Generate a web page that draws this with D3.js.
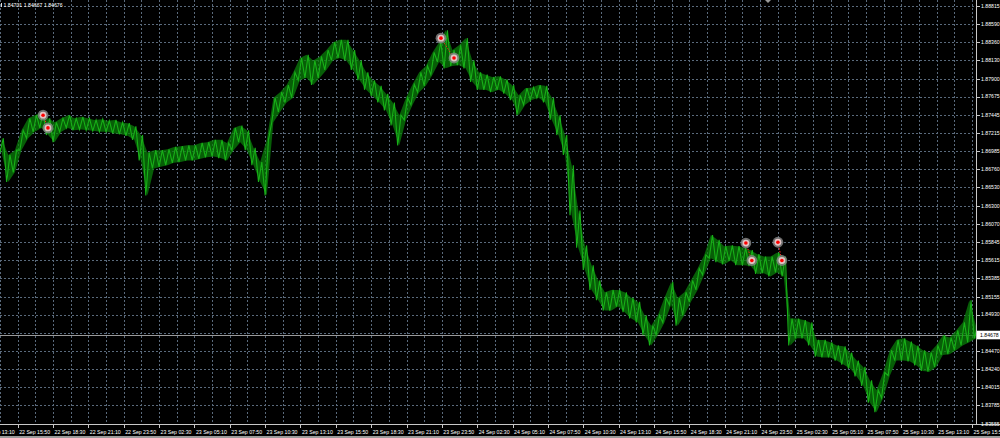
<!DOCTYPE html>
<html><head><meta charset="utf-8">
<script src="https://cdn.jsdelivr.net/npm/d3@7"></script>
<style>html,body{margin:0;padding:0;background:#000;overflow:hidden}svg{display:block}</style>
</head><body>
<svg id="c" width="1000" height="438"></svg>
<script>
// ---- data ----
const headerText = "1.84701 1.84667 1.84676";
const startTime = "2020-09-22T14:30:00Z";      // left edge of plot
const bucketMinutes = 30;                       // each bucket: low then high
const barHigh = [
 1.8715,1.8694,1.8700,1.8725,1.8740,1.8744,1.8748,1.8740,1.8735,1.8740,
 1.8744,1.8740,1.8742,1.8740,1.8738,1.8739,1.8737,1.8738,1.8735,1.8734,
 1.8730,1.8719,1.8697,1.8700,1.8700,1.8701,1.8704,1.8705,1.8706,1.8706,
 1.8709,1.8710,1.8713,1.8713,1.8709,1.8728,1.8731,1.8725,1.8703,1.8685,
 1.8713,1.8766,1.8773,1.8782,1.8798,1.8816,1.8820,1.8813,1.8818,1.8826,
 1.8836,1.8839,1.8839,1.8826,1.8813,1.8798,1.8788,1.8781,1.8771,1.8760,
 1.8744,1.8766,1.8783,1.8798,1.8806,1.8823,1.8836,1.8851,1.8826,1.8832,
 1.8841,1.8813,1.8798,1.8795,1.8792,1.8793,1.8789,1.8782,1.8769,1.8778,
 1.8779,1.8782,1.8781,1.8766,1.8744,1.8719,1.8681,1.8624,1.8580,1.8555,
 1.8536,1.8521,1.8524,1.8524,1.8521,1.8514,1.8509,1.8492,1.8479,1.8492,
 1.8514,1.8534,1.8514,1.8521,1.8536,1.8551,1.8568,1.8593,1.8587,1.8579,
 1.8580,1.8579,1.8577,1.8574,1.8569,1.8566,1.8566,1.8571,1.8566,1.8488,
 1.8488,1.8486,1.8483,1.8461,1.8461,1.8458,1.8454,1.8453,1.8445,1.8435,
 1.8427,1.8410,1.8398,1.8420,1.8448,1.8461,1.8463,1.8459,1.8454,1.8448,
 1.8445,1.8454,1.8467,1.8464,1.8473,1.8483,1.8511,1.8479];
const barLow = [
 1.8697,1.8660,1.8672,1.8700,1.8715,1.8723,1.8728,1.8719,1.8710,1.8723,
 1.8728,1.8725,1.8726,1.8725,1.8724,1.8723,1.8723,1.8721,1.8720,1.8718,
 1.8713,1.8687,1.8643,1.8677,1.8679,1.8681,1.8684,1.8685,1.8687,1.8687,
 1.8689,1.8691,1.8692,1.8690,1.8687,1.8700,1.8710,1.8700,1.8681,1.8660,
 1.8643,1.8735,1.8748,1.8760,1.8766,1.8788,1.8791,1.8782,1.8791,1.8801,
 1.8813,1.8816,1.8813,1.8801,1.8788,1.8776,1.8768,1.8760,1.8750,1.8731,
 1.8706,1.8738,1.8757,1.8773,1.8781,1.8795,1.8811,1.8803,1.8806,1.8807,
 1.8803,1.8786,1.8776,1.8776,1.8773,1.8776,1.8771,1.8763,1.8744,1.8757,
 1.8763,1.8766,1.8760,1.8738,1.8719,1.8694,1.8618,1.8577,1.8549,1.8524,
 1.8511,1.8498,1.8498,1.8503,1.8496,1.8488,1.8483,1.8467,1.8454,1.8467,
 1.8483,1.8505,1.8479,1.8492,1.8509,1.8524,1.8543,1.8564,1.8559,1.8556,
 1.8561,1.8555,1.8555,1.8554,1.8544,1.8545,1.8541,1.8546,1.8541,1.8454,
 1.8463,1.8463,1.8454,1.8440,1.8439,1.8439,1.8435,1.8430,1.8425,1.8415,
 1.8403,1.8382,1.8370,1.8388,1.8416,1.8435,1.8435,1.8434,1.8429,1.8422,
 1.8421,1.8427,1.8442,1.8443,1.8448,1.8454,1.8458,1.8463];
const lastPrice = 1.84678;
const priceTicks = [1.88815,1.88590,1.88360,1.88130,1.87900,1.87675,1.87445,1.87215,
 1.86985,1.86760,1.86530,1.86300,1.86070,1.85845,1.85615,1.85385,1.85155,1.84930,
 1.84700,1.84470,1.84240,1.84015,1.83785,1.83555];
const hiddenTick = 1.84700;   // covered by the current-price label
const timeLabelStart = "2020-09-22T13:10:00Z";
const timeLabelStepMin = 160;
const timeLabelCount = 29;
const tradeOpenTime  = ["2020-09-22T17:45:00Z","2020-09-23T23:46:00Z","2020-09-24T22:46:00Z","2020-09-25T01:11:00Z"];
const tradeOpenPrice = [1.8744,1.8841,1.8583,1.8584];
const tradeCloseTime = ["2020-09-22T18:07:00Z","2020-09-24T00:45:00Z","2020-09-24T23:13:00Z","2020-09-25T01:29:00Z"];
const tradeClosePrice= [1.8728,1.8816,1.8561,1.8561];

// ---- layout ----
const W = 1000, H = 438, plotR = 976, plotB = 424.5;
const t0 = new Date(startTime);
const t1 = new Date(t0.getTime() + 4417.6*60000);
const x = d3.scaleUtc().domain([t0, t1]).range([0, plotR]);
const y = d3.scaleLinear().domain([1.83555, 1.88815]).range([423.7, 6]);
const svg = d3.select("#c");
const font = "'Liberation Sans', Arial, sans-serif";
const fs = 5.2;

svg.append("rect").attr("width",W).attr("height",H).attr("fill","#000");

// grid
const gridColor = "#5a6a7c";
const gridTimes = d3.range(0, 2*timeLabelCount+2).map(k => new Date(new Date(timeLabelStart).getTime() + k*80*60000))
  .filter(d => x(d) >= 0 && x(d) < plotR);
const g = svg.append("g");
g.selectAll("line.v").data(gridTimes).join("line")
  .attr("x1", d => Math.round(x(d))+0.5).attr("x2", d => Math.round(x(d))+0.5)
  .attr("y1", 0).attr("y2", plotB)
  .attr("stroke", gridColor).attr("stroke-dasharray","2,2");
g.selectAll("line.h").data(priceTicks).join("line")
  .attr("x1", 0).attr("x2", plotR)
  .attr("y1", d => Math.round(y(d))+0.5).attr("y2", d => Math.round(y(d))+0.5)
  .attr("stroke", gridColor).attr("stroke-dasharray","2,2");

// bid line
svg.append("line").attr("x1",0).attr("x2",plotR)
  .attr("y1", Math.round(y(lastPrice))+0.5).attr("y2", Math.round(y(lastPrice))+0.5)
  .attr("stroke","#9a9a9a").attr("stroke-width",1);

// price band + line
const pts = [];
const band = [];
barLow.forEach((lo,i) => {
  const tb = t0.getTime() + i*bucketMinutes*60000;
  pts.push([new Date(tb), lo]);
  pts.push([new Date(tb + bucketMinutes/2*60000), barHigh[i]]);
  band.push([new Date(tb + bucketMinutes/4*60000), lo, barHigh[i]]);
});
pts.push([t1, lastPrice]);
svg.append("clipPath").attr("id","pc").append("rect").attr("x",0).attr("y",0).attr("width",plotR).attr("height",plotB);
const pg = svg.append("g").attr("clip-path","url(#pc)");
pg.append("path").datum(band)
  .attr("d", d3.area().x(d => x(d[0])).y0(d => y(d[1])).y1(d => y(d[2])))
  .attr("fill","#0a7d0a").attr("opacity",0.75);
pg.append("path").datum(pts)
  .attr("d", d3.line().x(d => x(d[0])).y(d => y(d[1])))
  .attr("fill","none").attr("stroke","#18b018").attr("stroke-width",1.1).attr("stroke-linejoin","miter");

// trades
const tg = svg.append("g");
tradeOpenTime.forEach((ot,i) => {
  const xo = x(new Date(ot)), yo = y(tradeOpenPrice[i]);
  const xc = x(new Date(tradeCloseTime[i])), yc = y(tradeClosePrice[i]);
  tg.append("line").attr("x1",xo).attr("y1",yo).attr("x2",xc).attr("y2",yc)
    .attr("stroke","#ff2020").attr("stroke-dasharray","1.5,1.5").attr("stroke-width",1);
  [[xo,yo],[xc,yc]].forEach(([cx,cy]) => {
    tg.append("circle").attr("cx",cx).attr("cy",cy).attr("r",5.4).attr("fill","#8a8a8a").attr("opacity",0.8);
    tg.append("circle").attr("cx",cx).attr("cy",cy).attr("r",3.4).attr("fill","#e2c4c4");
    tg.append("circle").attr("cx",cx).attr("cy",cy).attr("r",1.8).attr("fill","#ff0000");
  });
});

// axes lines
svg.append("line").attr("x1",plotR+0.5).attr("x2",plotR+0.5).attr("y1",0).attr("y2",plotB)
  .attr("stroke","#c8c8c8");
svg.append("line").attr("x1",0).attr("x2",W).attr("y1",plotB).attr("y2",plotB)
  .attr("stroke","#c8c8c8");
svg.append("rect").attr("x",0).attr("y",436).attr("width",W).attr("height",2).attr("fill","#9a9a9a");

// price axis
const ya = svg.append("g");
ya.selectAll("line").data(priceTicks).join("line")
  .attr("x1",plotR+1).attr("x2",plotR+4)
  .attr("y1", d => Math.round(y(d))+0.5).attr("y2", d => Math.round(y(d))+0.5)
  .attr("stroke","#c8c8c8");
ya.selectAll("text").data(priceTicks.filter(d => d !== hiddenTick)).join("text")
  .attr("x", plotR+5).attr("y", d => y(d)+1.9)
  .attr("fill","#fff").attr("font-family",font).attr("font-size",fs)
  .text(d => d.toFixed(5));

// current price label
const yl = y(lastPrice);
svg.append("rect").attr("x",plotR+1).attr("y",yl-3.8).attr("width",W-plotR-1).attr("height",8.6).attr("fill","#fff");
svg.append("text").attr("x",plotR+4).attr("y",yl+2.3).attr("fill","#000")
  .attr("font-family",font).attr("font-size",fs).text(lastPrice.toFixed(5));

// time axis
const fmt = d3.utcFormat("%d %b %H:%M");
const labelTimes = d3.range(timeLabelCount).map(k => new Date(new Date(timeLabelStart).getTime() + k*timeLabelStepMin*60000));
const xa = svg.append("g");
xa.selectAll("line").data(labelTimes).join("line")
  .attr("x1", d => Math.round(x(d))+0.5).attr("x2", d => Math.round(x(d))+0.5)
  .attr("y1", plotB).attr("y2", plotB+3.5).attr("stroke","#c8c8c8");
xa.selectAll("text").data(labelTimes).join("text")
  .attr("x", d => x(d)+1.5).attr("y", 433.5)
  .attr("fill","#fff").attr("font-family",font).attr("font-size",fs)
  .text(d => fmt(d));

// header
svg.append("rect").attr("x",1).attr("y",3).attr("width",1).attr("height",4).attr("fill","#ddd");
svg.append("text").attr("x",3.5).attr("y",7).attr("fill","#fff").attr("font-family",font).attr("font-size",fs).text(headerText);

// small shift marker at top
svg.append("path").attr("d", d3.line()([[765,0],[771,0],[768,3]])).attr("fill","#9a9a9a");
</script>
</body></html>
